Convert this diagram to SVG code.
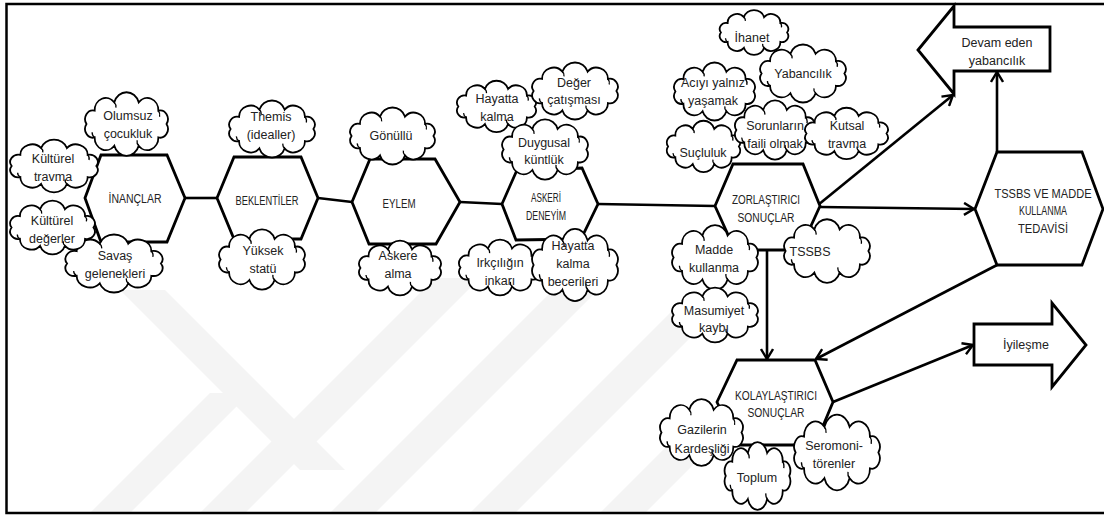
<svg xmlns="http://www.w3.org/2000/svg" width="1104" height="518" viewBox="0 0 1104 518">
<style>
.wm{fill:#f4f4f4;stroke:none}
.frame{fill:none;stroke:#000;stroke-width:2.5}
.hex{fill:#fff;stroke:#000;stroke-width:2.8;stroke-linejoin:miter}
.barr{fill:#fff;stroke:#000;stroke-width:2.8;stroke-linejoin:miter}
.conn{fill:none;stroke:#000;stroke-width:2.6}
.cl{fill:#fff;stroke:#000;stroke-width:1.8}
.hk{fill:none;stroke:#000;stroke-width:1.3}
text{font-family:"Liberation Sans",Arial,sans-serif;fill:#222;text-anchor:middle}
.t{font-size:12.5px}
.c{font-size:12.5px}
</style>
<defs>
<marker id="arr" viewBox="0 0 12 14" refX="11" refY="7" markerWidth="12" markerHeight="14" markerUnits="userSpaceOnUse" orient="auto">
<path d="M1,1 L11,7 L1,13" fill="none" stroke="#000" stroke-width="2.4"/>
</marker>
<g id="cloud">
<path class="cl" vector-effect="non-scaling-stroke" d="M4,30 A9,9 0 0 1 13.4,16.1 A12.8,12.8 0 0 1 36,7.6 A14.6,14.6 0 0 1 64,7.6 A12.8,12.8 0 0 1 86.6,16.1 A9,9 0 0 1 96,30 A9,9 0 0 1 86.6,43.9 A12.8,12.8 0 0 1 64,52.4 A14.6,14.6 0 0 1 36,52.4 A12.8,12.8 0 0 1 13.4,43.9 A9,9 0 0 1 4,30 Z"/>
<path class="hk" vector-effect="non-scaling-stroke" d="M10.5,38.5 A6,6 0 0 0 13.4,43.9 M86.6,16.1 A7,7 0 0 1 88,22.5 M64,52.4 A6,6 0 0 1 62.2,46.8 M36,7.6 A6,6 0 0 1 37.8,13"/>
</g>
</defs>

<g id="watermark">
<polygon class="wm" points="120,290 165,290 345,470 300,470"/>
<polygon class="wm" points="200,513 245,513 480,278 435,278"/>
<polygon class="wm" points="330,513 375,513 620,268 575,268"/>
<polygon class="wm" points="470,513 515,513 720,308 675,308"/>
<polygon class="wm" points="600,513 645,513 730,428 685,428"/>
<polygon class="wm" points="90,513 130,513 250,393 210,393"/>
</g>

<path class="frame" d="M1104,4 H6.5 V513 H1104"/>

<g id="connectors">
<path class="conn" d="M185,198 L217,198"/>
<path class="conn" d="M318,198 L352,202"/>
<path class="conn" d="M460,202 L502,204"/>
<path class="conn" d="M598,204 L715,206"/>
<path class="conn" d="M820,207 L974,209" marker-end="url(#arr)"/>
<path class="conn" d="M818,205 L953,95" marker-end="url(#arr)"/>
<path class="conn" d="M997,152 L997,72" marker-end="url(#arr)"/>
<path class="conn" d="M767,250 L767,359" marker-end="url(#arr)"/>
<path class="conn" d="M997,265 L816,359" marker-end="url(#arr)"/>
<path class="conn" d="M833,402 L973,345" marker-end="url(#arr)"/>
</g>

<g id="inanclar">
<polygon class="hex" points="85,198 101,155 167,155 185,198 167,242 101,242"/>
<text class="c" x="135" y="202.5" textLength="53" lengthAdjust="spacingAndGlyphs">İNANÇLAR</text>
</g>
<g id="beklentiler">
<polygon class="hex" points="217,198 234,157 301,157 318,198 301,239 234,239"/>
<text class="c" x="267" y="204.5" textLength="63" lengthAdjust="spacingAndGlyphs">BEKLENTİLER</text>
</g>
<g id="eylem">
<polygon class="hex" points="352,202 370,159 435,159 460,202 436,244 369,244"/>
<text class="c" x="399" y="207.5" textLength="33" lengthAdjust="spacingAndGlyphs">EYLEM</text>
</g>
<g id="askeri-deneyim">
<polygon class="hex" points="502,204 517,170 582,168 598,204 581,239 516,240"/>
<text class="c" x="546" y="201.5" textLength="30" lengthAdjust="spacingAndGlyphs">ASKERİ</text>
<text class="c" x="546" y="219.5" textLength="40" lengthAdjust="spacingAndGlyphs">DENEYİM</text>
</g>
<g id="zorlastirici">
<polygon class="hex" points="715,206 733,164 803,164 820,206 800,250 735,250"/>
<text class="c" x="766" y="203.5" textLength="68" lengthAdjust="spacingAndGlyphs">ZORLAŞTIRICI</text>
<text class="c" x="766" y="221.5" textLength="57" lengthAdjust="spacingAndGlyphs">SONUÇLAR</text>
</g>
<g id="tedavi">
<polygon class="hex" points="975,209 997,152 1082,152 1103,209 1082,265 997,265"/>
<text class="c" x="1043" y="197.5" textLength="97" lengthAdjust="spacingAndGlyphs">TSSBS VE MADDE</text>
<text class="c" x="1043" y="215" textLength="48" lengthAdjust="spacingAndGlyphs">KULLANMA</text>
<text class="c" x="1043" y="232.5" textLength="50" lengthAdjust="spacingAndGlyphs">TEDAVİSİ</text>
</g>
<g id="kolaylastirici">
<polygon class="hex" points="717,402 737,360 815,360 833,402 815,445 737,445"/>
<text class="c" x="776" y="399.5" textLength="82" lengthAdjust="spacingAndGlyphs">KOLAYLAŞTIRICI</text>
<text class="c" x="776" y="416.5" textLength="57" lengthAdjust="spacingAndGlyphs">SONUÇLAR</text>
</g>
<g id="devam-eden">
<polygon class="barr" points="918,50 954,6 954,27 1050,27 1050,71 954,71 954,94"/>
<text class="t" x="997" y="47">Devam eden</text>
<text class="t" x="997" y="65">yabancılık</text>
</g>
<g id="iyilesme">
<polygon class="barr" points="974,324 1052,324 1052,303 1086,345 1052,387 1052,365 974,365"/>
<text class="t" x="1026" y="349">İyileşme</text>
</g>

<g id="olumsuz-cocukluk"><use href="#cloud" transform="translate(83,95) scale(.87,.967)"/><text class="t" x="128" y="119.5">Olumsuz</text><text class="t" x="128" y="137.5">çocukluk</text></g>
<g id="kulturel-travma"><use href="#cloud" transform="translate(8,142) scale(.92,.8)"/><text class="t" x="53" y="162.5">Kültürel</text><text class="t" x="53" y="181">travma</text></g>
<g id="savas-gelenekleri"><use href="#cloud" transform="translate(63,237) scale(1.02,.883)"/><text class="t" x="115" y="259.5">Savaş</text><text class="t" x="115" y="277.5">gelenekleri</text></g>
<g id="kulturel-degerler"><use href="#cloud" transform="translate(8,203) scale(.89,.817)"/><text class="t" x="52" y="224.5">Kültürel</text><text class="t" x="52" y="242.5">değerler</text></g>
<g id="themis"><use href="#cloud" transform="translate(227,103) scale(.9,.867)"/><text class="t" x="271" y="120.5">Themis</text><text class="t" x="271" y="138.5">(idealler)</text></g>
<g id="yuksek-statu"><use href="#cloud" transform="translate(217,232) scale(.9,.917)"/><text class="t" x="263" y="254.5">Yüksek</text><text class="t" x="263" y="272.5">statü</text></g>
<g id="gonullu"><use href="#cloud" transform="translate(348,110) scale(.89,.867)"/><text class="t" x="391" y="139.5">Gönüllü</text></g>
<g id="askere-alma"><use href="#cloud" transform="translate(357,243) scale(.86,.833)"/><text class="t" x="398" y="259.5">Askere</text><text class="t" x="398" y="277.5">alma</text></g>
<g id="hayatta-kalma"><use href="#cloud" transform="translate(455,83) scale(.83,.783)"/><text class="t" x="497" y="102.5">Hayatta</text><text class="t" x="497" y="121">kalma</text></g>
<g id="deger-catismasi"><use href="#cloud" transform="translate(530,65) scale(.9,.867)"/><text class="t" x="574" y="86.5">Değer</text><text class="t" x="574" y="103.5">çatışması</text></g>
<g id="duygusal-kuntluk"><use href="#cloud" transform="translate(500,122) scale(.9,.917)"/><text class="t" x="544" y="146.5">Duygusal</text><text class="t" x="544" y="163.5">küntlük</text></g>
<g id="irkciligin-inkari"><use href="#cloud" transform="translate(457,242) scale(.86,.85)"/><text class="t" x="500" y="266.5">Irkçılığın</text><text class="t" x="500" y="284.5">inkarı</text></g>
<g id="hayatta-kalma-becerileri"><use href="#cloud" transform="translate(530,232) scale(.9,1.1)"/><text class="t" x="573" y="249.5">Hayatta</text><text class="t" x="573" y="267.5">kalma</text><text class="t" x="573" y="286">becerileri</text></g>
<g id="ihanet"><use href="#cloud" transform="translate(718,12) scale(.72,.683)"/><text class="t" x="752" y="41.5">İhanet</text></g>
<g id="yabancilik"><use href="#cloud" transform="translate(758,47) scale(.9,.883)"/><text class="t" x="803" y="77.5">Yabancılık</text></g>
<g id="aciyi-yalniz"><use href="#cloud" transform="translate(672,65) scale(.85,.883)"/><text class="t" x="713" y="86.5">Acıyı yalnız</text><text class="t" x="713" y="104.5">yaşamak</text></g>
<g id="sucluluk"><use href="#cloud" transform="translate(665,123) scale(.77,.783)"/><text class="t" x="703" y="156.5">Suçluluk</text></g>
<g id="sorunlarin-faili"><use href="#cloud" transform="translate(733,103) scale(.84,.9)"/><text class="t" x="775" y="129.5">Sorunların</text><text class="t" x="775" y="147.5">faili olmak</text></g>
<g id="kutsal-travma"><use href="#cloud" transform="translate(803,110) scale(.87,.783)"/><text class="t" x="847" y="129.5">Kutsal</text><text class="t" x="847" y="147.5">travma</text></g>
<g id="madde-kullanma"><use href="#cloud" transform="translate(670,228) scale(.9,.983)"/><text class="t" x="714" y="253.5">Madde</text><text class="t" x="714" y="271.5">kullanma</text></g>
<g id="tssbs"><use href="#cloud" transform="translate(782,222) scale(.9,.967)"/><text class="t" x="810" y="255.5">TSSBS</text></g>
<g id="masumiyet-kaybi"><use href="#cloud" transform="translate(670,290) scale(.9,.833)"/><text class="t" x="714" y="314.5">Masumiyet</text><text class="t" x="714" y="331.5">kaybı</text></g>
<g id="gazilerin-kardesligi"><use href="#cloud" transform="translate(658,402) scale(.87,1.017)"/><text class="t" x="702" y="433.5">Gazilerin</text><text class="t" x="702" y="452.5">Kardeşliği</text></g>
<g id="toplum"><use href="#cloud" transform="translate(723,445) scale(.69,1.033)"/><text class="t" x="757" y="481.5">Toplum</text></g>
<g id="seromoni-torenler"><use href="#cloud" transform="translate(792,418) scale(.9,1.15)"/><text class="t" x="834" y="449.5">Seromoni-</text><text class="t" x="834" y="467.5">törenler</text></g>
</svg>
